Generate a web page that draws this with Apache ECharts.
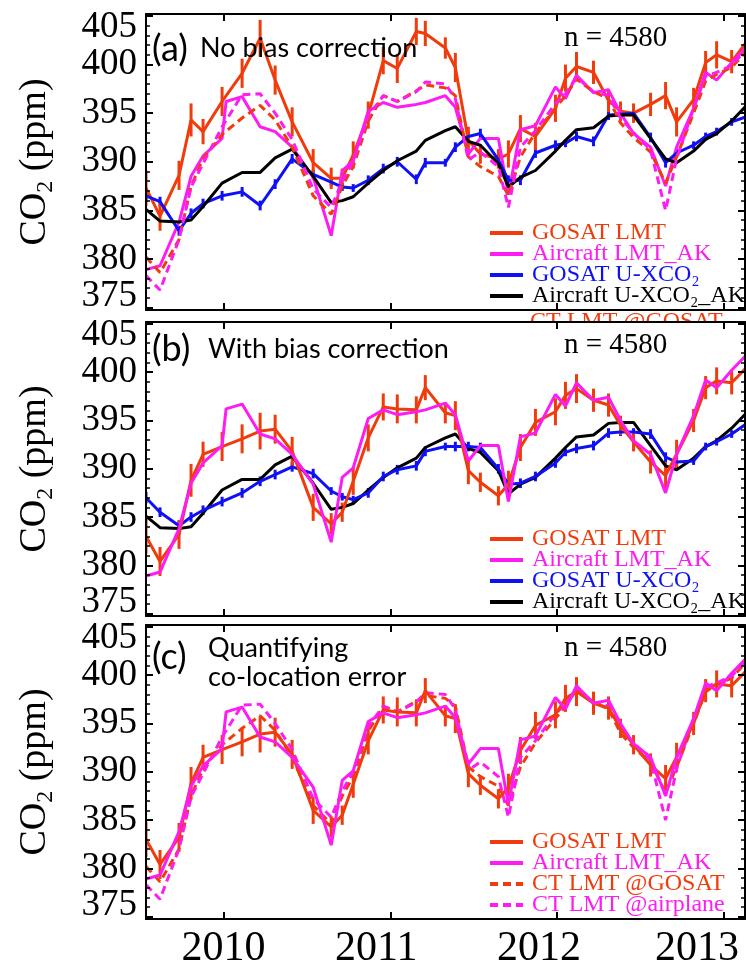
<!DOCTYPE html>
<html><head><meta charset="utf-8">
<script src="https://cdn.jsdelivr.net/npm/echarts@6/dist/echarts.min.js"></script>
<style>html,body{margin:0;padding:0;background:#fff}#c{width:746px;height:965px}</style>
</head><body><div id="c"></div>
<script>
// ---- data (decimal year of each co-located sample group) ----
const xYears = [2009.536, 2009.620, 2009.734, 2009.806, 2009.878, 2009.992, 2010.016, 2010.112, 2010.220, 2010.310,
  2010.412, 2010.538, 2010.646, 2010.712, 2010.778, 2010.868, 2010.958, 2011.042, 2011.156, 2011.210,
  2011.330, 2011.390, 2011.468, 2011.540, 2011.648, 2011.708, 2011.780, 2011.870, 2011.990, 2012.050,
  2012.116, 2012.218, 2012.308, 2012.380, 2012.458, 2012.560, 2012.650, 2012.716, 2012.818, 2012.890,
  2012.956, 2013.046, 2013.130];
const gosatLmtRaw = [387.3, 384.4, 388.6, 394.3, 393.1, 396.2, null, 399.1, 402.7, 398.4, 394.1, 389.9, 388.3, 388.3, 390.7, 394.8, 400.4, 399.6, 403.4, 403.2, 401.7, 399.7, 392.2, 390.8, 390.3, 390.8, 393.4, 392.6, 395.5, 398.6, 399.8, 399.2, 396.3, 395.2, 395.0, 395.9, 396.8, 394.1, 396.4, 400.2, 401.0, 400.3, 402.2];
const gosatLmtCorr = [383.0, 380.4, 383.2, 388.8, 391.5, 392.3, null, 393.1, 393.9, 394.1, 391.8, 386.0, 384.3, 385.5, 388.7, 393.2, 396.4, 396.2, 396.1, 398.4, 395.8, 395.5, 389.8, 388.6, 387.2, 388.4, 392.2, 394.8, 395.9, 397.6, 398.3, 397.1, 396.6, 394.5, 392.8, 390.7, 389.3, 391.5, 395.0, 398.4, 399.1, 398.9, 400.4];
const gosatLmtErr = [1.8, 1.5, 1.5, 1.7, 1.3, 1.5, null, 1.5, 1.9, 1.5, 1.5, 1.4, 1.1, 1.0, 1.4, 1.4, 1.4, 1.5, 1.4, 1.3, 1.1, 1.5, 1.4, 1.0, 1.0, 1.4, 1.4, 1.4, 1.4, 1.4, 1.5, 1.2, 1.2, 1.0, 1.0, 1.2, 1.4, 1.5, 1.2, 1.2, 1.4, 1.2, 1.0];
const gosatUxRaw = [386.5, 385.9, 382.9, 384.7, 385.7, 386.5, null, 386.9, 385.5, 387.7, 390.3, 388.7, 387.9, 387.4, 387.3, 388.1, 389.3, 390.0, 388.2, 389.9, 389.9, 391.5, 392.6, 392.9, 390.2, 388.1, 388.1, 390.9, 391.7, 391.9, 392.6, 392.1, 394.8, 394.9, 395.0, 392.5, 389.9, 390.9, 391.7, 392.6, 393.1, 394.1, 394.6];
const gosatUxCorr = [387.0, 385.5, 384.1, 385.0, 385.7, 386.6, null, 387.5, 388.7, 389.4, 390.2, 389.5, 387.7, 387.1, 386.8, 387.5, 389.2, 389.9, 390.3, 391.8, 392.3, 392.3, 392.3, 392.2, 390.0, 388.4, 388.5, 389.2, 390.6, 391.7, 392.1, 392.4, 393.7, 393.8, 393.8, 393.6, 391.2, 390.7, 390.8, 392.3, 392.8, 393.6, 394.6];
const gosatUxErr = [0.6, 0.5, 0.5, 0.5, 0.5, 0.5, null, 0.5, 0.5, 0.5, 0.5, 0.5, 0.4, 0.4, 0.4, 0.5, 0.5, 0.5, 0.5, 0.5, 0.4, 0.5, 0.5, 0.5, 0.5, 0.5, 0.5, 0.5, 0.5, 0.4, 0.5, 0.5, 0.5, 0.4, 0.4, 0.5, 0.5, 0.4, 0.4, 0.4, 0.4, 0.4, 0.5];
const aircraftLmtAk = [378.9, 379.3, 383.8, 388.5, 390.6, 392.4, 396.2, 396.7, 393.6, 393.1, 391.5, 388.4, 382.4, 389.1, 390.1, 395.2, 396.1, 395.6, 395.9, 396.1, 396.8, 395.6, 390.8, 392.4, 392.4, 386.6, 393.3, 393.7, 397.7, 396.5, 398.9, 397.1, 397.4, 395.0, 392.9, 391.5, 387.5, 391.5, 395.5, 399.2, 398.4, 400.2, 401.7];
const aircraftUxAk = [385.1, 383.9, 383.8, 384.0, 385.4, 387.8, null, 388.9, 388.9, 390.4, 391.3, 388.5, 385.8, 386.0, 386.4, 387.8, 389.1, 390.1, 391.1, 392.2, 393.2, 393.6, 392.1, 391.7, 389.8, 387.4, 388.4, 389.1, 391.1, 392.2, 393.3, 393.5, 394.7, 394.8, 394.8, 392.4, 390.3, 389.9, 391.1, 392.3, 392.9, 394.2, 395.7];
const ctLmtGosat = [380.2, 378.6, 382.0, 387.5, 390.3, 392.8, null, 394.5, 395.8, 394.3, 391.5, 386.5, 384.6, 387.5, 389.5, 394.2, 396.8, 396.2, 397.3, 397.9, 397.6, 396.8, 390.5, 389.5, 388.5, 386.5, 390.5, 393.0, 395.5, 396.8, 398.5, 397.2, 396.5, 394.0, 392.5, 391.0, 387.8, 390.5, 395.0, 398.3, 399.0, 399.7, 401.3];
const ctLmtAirplane = [378.3, 376.8, 382.0, 387.4, 389.8, 393.6, null, 396.9, 397.0, 395.0, 392.3, 387.2, 385.3, 388.0, 390.0, 394.7, 396.8, 396.2, 397.2, 398.2, 398.0, 396.5, 390.2, 391.0, 389.5, 385.3, 391.5, 393.2, 396.0, 397.0, 398.7, 397.2, 396.8, 394.5, 393.0, 391.2, 385.0, 390.3, 395.5, 398.8, 399.2, 399.9, 401.5];
const yearTicks = [2010, 2011, 2012, 2013];
const yTickLabels = [375, 380, 385, 390, 395, 400, 405];
const panelTitles = [['(a)', 'No bias correction'], ['(b)', 'With bias correction'], ['(c)', 'Quantifying', 'co-location error']];
const sampleNote = 'n = 4580';

// ---- styling ----
const C = {orange: '#f03c0c', magenta: '#ff1cf2', blue: '#1010f5', black: '#000000'};
const SERIF = 'Liberation Serif';
const SANS = 'Lato';
const X_MIN = 2009.536, X_MAX = 2013.126, Y_MIN = 374.75, Y_MAX = 405.2;
const GRIDS = [{top: 14, height: 296}, {top: 322, height: 294}, {top: 625, height: 294}];
const minorTicks = [];
for (let v = 375; v <= 405; v++) minorTicks.push(v);

function pairs(vals) {
  return xYears.map((x, i) => [x, vals[i]]).filter(p => p[1] != null);
}
function triples(vals, errs) {
  return xYears.map((x, i) => [x, vals[i], errs[i]]).filter(p => p[1] != null && p[2] != null);
}

const grid = GRIDS.map(g => ({left: 146, width: 599, top: g.top, height: g.height, outerBoundsMode: 'none', containLabel: false}));

const xAxis = [];
const yAxis = [];
const labelShift = {2010: 0, 2011: 28, 2012: 36, 2013: 54};
const xRich = {};
yearTicks.forEach(y => { xRich['y' + y] = {fontFamily: SERIF, fontSize: 42, color: '#000', padding: [0, labelShift[y], 0, 0]}; });

GRIDS.forEach((g, gi) => {
  ['bottom', 'top'].forEach(pos => {
    xAxis.push({
      type: 'value', gridIndex: gi, position: pos, min: X_MIN, max: X_MAX, z: 5,
      axisLine: {show: true, onZero: false, lineStyle: {color: '#000', width: 2}},
      axisTick: {show: true, inside: true, length: 7, customValues: yearTicks, lineStyle: {color: '#000', width: 2}},
      axisLabel: {show: gi === 2 && pos === 'bottom', customValues: yearTicks, margin: 9,
        showMinLabel: true, showMaxLabel: true,
        fontFamily: SERIF, fontSize: 42, color: '#000',
        formatter: v => '{y' + v + '|' + v + '}', rich: xRich},
      splitLine: {show: false}
    });
  });
  const lblFont = {fontFamily: SERIF, fontSize: 37, color: '#000'};
  ['left', 'right'].forEach(pos => {
    yAxis.push({
      type: 'value', gridIndex: gi, position: pos, min: Y_MIN, max: Y_MAX, z: 5,
      axisLine: {show: true, onZero: false, lineStyle: {color: '#000', width: 2}},
      axisTick: {show: true, inside: true, length: 7, customValues: yTickLabels, lineStyle: {color: '#000', width: 2}},
      axisLabel: {show: pos === 'left', customValues: yTickLabels, margin: 9,
        formatter: v => v === 405 ? '{t|405}' : (v === 375 ? '{b|375}' : '{n|' + v + '}'),
        rich: {t: Object.assign({padding: [22, 0, 0, 0]}, lblFont), b: Object.assign({padding: [0, 0, 22, 0]}, lblFont), n: lblFont}},
      splitLine: {show: false},
      name: pos === 'left' ? '{a|CO}{s|2}{a| (ppm)}' : '',
      nameLocation: 'middle', nameRotate: 90, nameGap: 88,
      nameTextStyle: {rich: {
        a: {fontFamily: SERIF, fontSize: 38, lineHeight: 46, color: '#000'},
        s: {fontFamily: SERIF, fontSize: 24, lineHeight: 24, verticalAlign: 'bottom', color: '#000'}
      }}
    });
    yAxis.push({
      type: 'value', gridIndex: gi, position: pos, min: Y_MIN, max: Y_MAX, z: 5,
      axisLine: {show: false, onZero: false},
      axisTick: {show: true, inside: true, length: 4, customValues: minorTicks, lineStyle: {color: '#000', width: 1.5}},
      axisLabel: {show: false}, splitLine: {show: false}
    });
  });
});

function lineS(name, gi, vals, color, dashed) {
  return {type: 'line', name, xAxisIndex: 2 * gi, yAxisIndex: 4 * gi, data: pairs(vals), z: 3,
    symbol: 'none', showSymbol: false, silent: true, clip: true,
    lineStyle: {color, width: 3, type: dashed ? [8, 5] : 'solid'}, itemStyle: {color}};
}
function errS(name, gi, vals, errs, color, width) {
  return {type: 'custom', name, xAxisIndex: 2 * gi, yAxisIndex: 4 * gi, data: triples(vals, errs), z: 3,
    silent: true, clip: true, encode: {x: 0, y: 1},
    renderItem: (params, api) => {
      const x = api.value(0), y = api.value(1), e = api.value(2);
      const p1 = api.coord([x, y - e]), p2 = api.coord([x, y + e]);
      return {type: 'line', shape: {x1: p1[0], y1: p1[1], x2: p2[0], y2: p2[1]}, style: {stroke: color, lineWidth: width}};
    }};
}

const series = [
  // panel a
  lineS('GOSAT LMT', 0, gosatLmtRaw, C.orange, false),
  lineS('Aircraft LMT_AK', 0, aircraftLmtAk, C.magenta, false),
  lineS('GOSAT U-XCO2', 0, gosatUxRaw, C.blue, false),
  lineS('Aircraft U-XCO2_AK', 0, aircraftUxAk, C.black, false),
  lineS('CT LMT @GOSAT', 0, ctLmtGosat, C.orange, true),
  lineS('CT LMT @airplane', 0, ctLmtAirplane, C.magenta, true),
  errS('GOSAT U-XCO2', 0, gosatUxRaw, gosatUxErr, C.blue, 3),
  errS('GOSAT LMT', 0, gosatLmtRaw, gosatLmtErr, C.orange, 3),
  // panel b
  lineS('Aircraft U-XCO2_AK', 1, aircraftUxAk, C.black, false),
  lineS('GOSAT U-XCO2', 1, gosatUxCorr, C.blue, false),
  errS('GOSAT U-XCO2', 1, gosatUxCorr, gosatUxErr, C.blue, 3),
  lineS('GOSAT LMT', 1, gosatLmtCorr, C.orange, false),
  errS('GOSAT LMT', 1, gosatLmtCorr, gosatLmtErr, C.orange, 3),
  lineS('Aircraft LMT_AK', 1, aircraftLmtAk, C.magenta, false),
  // panel c
  lineS('CT LMT @GOSAT', 2, ctLmtGosat, C.orange, true),
  lineS('CT LMT @airplane', 2, ctLmtAirplane, C.magenta, true),
  lineS('GOSAT LMT', 2, gosatLmtCorr, C.orange, false),
  errS('GOSAT LMT', 2, gosatLmtCorr, gosatLmtErr, C.orange, 3),
  lineS('Aircraft LMT_AK', 2, aircraftLmtAk, C.magenta, false)
];

const legendColor = {'GOSAT LMT': C.orange, 'Aircraft LMT_AK': C.magenta, 'GOSAT U-XCO2': C.blue,
  'Aircraft U-XCO2_AK': C.black, 'CT LMT @GOSAT': C.orange, 'CT LMT @airplane': C.magenta};
function legendOf(names, top) {
  return {
    show: true, orient: 'vertical', left: 488, top, itemWidth: 33, itemHeight: 14, itemGap: -3,
    selectedMode: false, padding: 0, z: 6,
    itemStyle: {opacity: 0},
    lineStyle: {width: 4},
    data: names.map(n => ({name: n, textStyle: {color: legendColor[n]}})),
    formatter: n => n.replace('XCO2', 'XCO\u2082'),
    textStyle: {fontFamily: SERIF, fontSize: 24, lineHeight: 20, padding: [0, 0, 0, 4]}
  };
}
const legend = [
  legendOf(['GOSAT LMT', 'Aircraft LMT_AK', 'GOSAT U-XCO2', 'Aircraft U-XCO2_AK'], 221),
  legendOf(['GOSAT LMT', 'Aircraft LMT_AK', 'GOSAT U-XCO2', 'Aircraft U-XCO2_AK'], 527),
  legendOf(['GOSAT LMT', 'Aircraft LMT_AK', 'CT LMT @GOSAT', 'CT LMT @airplane'], 830)
];

function txt(text, x, y, family, size, color, z) {
  return {type: 'text', x, y, z: z == null ? 10 : z, silent: true,
    style: {text, fontFamily: family, fontSize: size, fill: color || '#000', verticalAlign: 'middle', align: 'left'}};
}
const graphic = [
  // legend row of panel (a) that continues under panel (b)
  txt('CT LMT @GOSAT', 530, 322, SERIF, 24, C.orange, 0),
  {type: 'rect', z: 1, silent: true, shape: {x: 147, y: 323, width: 597, height: 292}, style: {fill: '#fff'}},
  txt(panelTitles[0][0], 152, 49, SANS, 36), txt(panelTitles[0][1], 200, 48, SANS, 27),
  txt(panelTitles[1][0], 152, 349, SANS, 36), txt(panelTitles[1][1], 208, 349, SANS, 27),
  txt(panelTitles[2][0], 152, 657, SANS, 36), txt(panelTitles[2][1], 208, 648, SANS, 27), txt(panelTitles[2][2], 208, 677, SANS, 27),
  txt(sampleNote, 564, 38, SERIF, 29), txt(sampleNote, 564, 345, SERIF, 29), txt(sampleNote, 564, 648, SERIF, 29)
];

const chart = echarts.init(document.getElementById('c'), null, {renderer: 'canvas'});
chart.setOption({animation: false, backgroundColor: '#fff', grid, xAxis, yAxis, series, legend, graphic, tooltip: {show: false}});
</script></body></html>
